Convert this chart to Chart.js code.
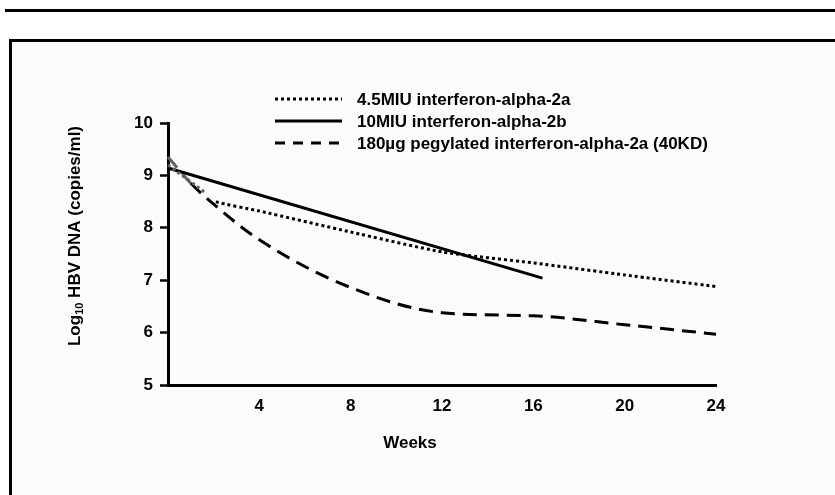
<!DOCTYPE html>
<html>
<head>
<meta charset="utf-8">
<script src="https://cdn.jsdelivr.net/npm/chart.js@4.4.1/dist/chart.umd.min.js"></script>
<style>
  html, body { margin: 0; padding: 0; background: #fff; }
  #wrap { position: relative; width: 835px; height: 495px; overflow: hidden; }
  #rule { position: absolute; left: 5px; top: 9px; width: 830px; height: 3px; background: #000; }
  #frame { position: absolute; left: 9px; top: 39px; width: 840px; height: 470px;
           border-left: 3px solid #000; border-top: 3px solid #000; background: #fcfcfc; }
  #chart { position: absolute; left: 0; top: 0; }
</style>
</head>
<body>
<div id="wrap">
  <div id="rule"></div>
  <div id="frame"></div>
  <canvas id="chart" width="835" height="495"></canvas>
</div>
<script>
// tick values
const weekTicks = [0, 4, 8, 12, 16, 20, 24];
const logTicks = [5, 6, 7, 8, 9, 10];

const seriesLabels = [
  "4.5MIU interferon-alpha-2a",
  "10MIU interferon-alpha-2b",
  "180\u00b5g pegylated interferon-alpha-2a (40KD)",
];
const xTitle = "Weeks";

// values (weeks, log10 copies/ml)
const dottedWeeks = [0, 1.6, 2.1, 4, 8, 12, 16, 20, 24];
const dottedValues = [9.2, 8.68, 8.5, 8.32, 7.92, 7.54, 7.33, 7.1, 6.88];

const solidWeeks = [0, 16.4];
const solidValues = [9.14, 7.04];

const dashedWeeks = [0, 1, 2, 4, 8, 12, 16, 20, 24];
const dashedValues = [9.35, 8.85, 8.45, 7.77, 6.86, 6.38, 6.32, 6.15, 5.97];

const FONT = '"Liberation Sans", Arial, sans-serif';
const GRAY = "#58626e";
const SIZE = 17;

const toPoints = (xs, ys) => xs.map((x, i) => ({ x: x, y: ys[i] }));

// first stretch of two curves is grey in the original, with a small gap on the dotted one
const dottedColor = (c) => {
  if (c.p0DataIndex === 0) return GRAY;
  if (c.p0DataIndex === 1) return "rgba(0,0,0,0)";
  return undefined;
};

// legend + axis titles drawn by hand (legend sits inside the plot, y title has a subscript)
const decorPlugin = {
  id: "decor",
  afterDraw(chart) {
    const ctx = chart.ctx;
    ctx.save();
    ctx.font = "bold " + SIZE + "px " + FONT;
    ctx.fillStyle = "#000";
    ctx.textBaseline = "middle";

    chart.data.datasets.forEach((ds, i) => {
      const y = 99 + i * 22;
      ctx.beginPath();
      ctx.setLineDash(ds.legendDash);
      ctx.lineWidth = 3;
      ctx.strokeStyle = "#000";
      ctx.moveTo(275, y);
      ctx.lineTo(342, y);
      ctx.stroke();
      ctx.setLineDash([]);
      ctx.textAlign = "left";
      ctx.fillText(ds.label, 357, y + 1);
    });

    ctx.textAlign = "center";
    ctx.fillText(xTitle, 410, 443);

    // y axis title
    const part1 = "Log";
    const sub = "10";
    const part2 = " HBV DNA (copies/ml)";
    const big = "bold " + SIZE + "px " + FONT;
    const small = "bold 11px " + FONT;
    ctx.font = big;
    const w1 = ctx.measureText(part1).width;
    const w3 = ctx.measureText(part2).width;
    ctx.font = small;
    const w2 = ctx.measureText(sub).width;
    const total = w1 + w2 + w3;

    ctx.translate(75, 236);
    ctx.rotate(-Math.PI / 2);
    ctx.textAlign = "left";
    let x = -total / 2;
    ctx.font = big;
    ctx.fillText(part1, x, 0);
    x += w1;
    ctx.font = small;
    ctx.fillText(sub, x, 5);
    x += w2;
    ctx.font = big;
    ctx.fillText(part2, x, 0);
    ctx.restore();
  },
};

const tickFont = { family: FONT, size: SIZE, weight: "bold" };

new Chart(document.getElementById("chart"), {
  type: "line",
  data: {
    datasets: [
      {
        label: seriesLabels[0],
        data: toPoints(dottedWeeks, dottedValues),
        borderColor: "#000",
        borderWidth: 3,
        borderDash: [3, 3],
        legendDash: [3, 3],
        tension: 0.2,
        pointRadius: 0,
        clip: false,
        segment: { borderColor: dottedColor },
      },
      {
        label: seriesLabels[1],
        data: toPoints(solidWeeks, solidValues),
        borderColor: "#000",
        borderWidth: 3,
        legendDash: [],
        pointRadius: 0,
        clip: false,
      },
      {
        label: seriesLabels[2],
        data: toPoints(dashedWeeks, dashedValues),
        borderColor: "#000",
        borderWidth: 3,
        borderDash: [14, 8],
        legendDash: [10, 8],
        cubicInterpolationMode: "monotone",
        pointRadius: 0,
        clip: false,
        segment: { borderColor: (c) => (c.p0DataIndex === 0 ? GRAY : undefined) },
      },
    ],
  },
  options: {
    responsive: false,
    animation: false,
    layout: { padding: { top: 123, right: 119, left: 0, bottom: 0 } },
    plugins: {
      legend: { display: false },
      tooltip: { enabled: false },
    },
    scales: {
      x: {
        type: "linear",
        min: 0,
        max: 24,
        afterFit: (s) => { s.height = 110; },
        afterBuildTicks: (s) => { s.ticks = weekTicks.map((v) => ({ value: v })); },
        grid: { drawOnChartArea: false, drawTicks: false },
        border: { color: "#000", width: 3 },
        ticks: {
          padding: 11,
          color: "#000",
          font: tickFont,
          maxRotation: 0,
          callback: (v) => (v === 0 ? "" : v),
        },
      },
      y: {
        type: "linear",
        min: 5,
        max: 10,
        afterFit: (s) => { s.width = 168; },
        afterBuildTicks: (s) => { s.ticks = logTicks.map((v) => ({ value: v })); },
        grid: { drawOnChartArea: false, drawTicks: true, tickLength: 8, tickWidth: 2.5, tickColor: "#000" },
        border: { color: "#000", width: 3 },
        ticks: { padding: 7, color: "#000", font: tickFont },
      },
    },
  },
  plugins: [decorPlugin],
});
</script>
</body>
</html>
